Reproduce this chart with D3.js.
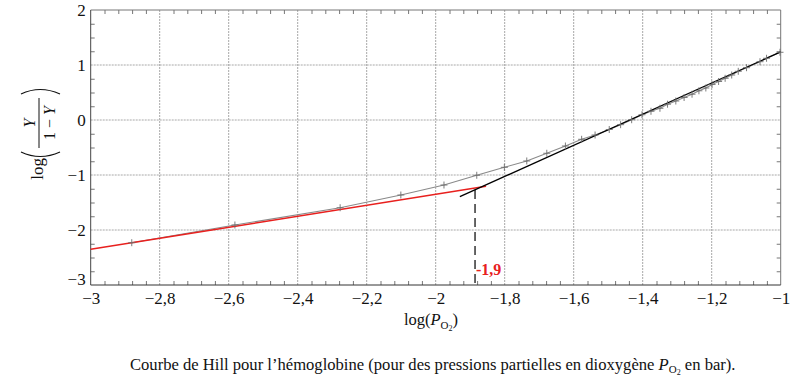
<!DOCTYPE html>
<html><head><meta charset="utf-8">
<script src="https://cdn.jsdelivr.net/npm/d3@7"></script>
<style>
html,body{margin:0;padding:0;background:#fff;}
svg{display:block;font-family:"Liberation Serif","DejaVu Serif",serif;}
</style></head>
<body>
<svg id="c" width="793" height="379"></svg>
<script>
// ---- data ----
const xTickValues = [-3, -2.8, -2.6, -2.4, -2.2, -2, -1.8, -1.6, -1.4, -1.2, -1];
const xTickLabels = ["−3", "−2,8", "−2,6", "−2,4", "−2,2", "−2", "−1,8", "−1,6", "−1,4", "−1,2", "−1"];
const yTickValues = [2, 1, 0, -1, -2, -3];
const yTickLabels = ["2", "1", "0", "−1", "−2", "−3"];

// Hill curve (measured points, log(P_O2) vs log(Y/(1-Y)))
const hillX = [-2.881, -2.582, -2.277, -2.101, -1.976, -1.881, -1.801, -1.736, -1.678, -1.624,
  -1.577, -1.538, -1.497, -1.464, -1.432, -1.402, -1.376, -1.350, -1.328, -1.304,
  -1.280, -1.257, -1.237, -1.217, -1.199, -1.180, -1.161, -1.142, -1.123, -1.099,
  -1.060, -1.041, -1.002];
const hillY = [-2.231, -1.909, -1.595, -1.364, -1.182, -1.005, -0.860, -0.745, -0.605, -0.473,
  -0.351, -0.273, -0.173, -0.085, 0.005, 0.096, 0.158, 0.213, 0.287, 0.345,
  0.409, 0.469, 0.531, 0.582, 0.645, 0.700, 0.758, 0.818, 0.885, 0.951,
  1.060, 1.122, 1.231];

// asymptote low affinity (red)
const redX = [-3, -1.854];
const redY = [-2.35, -1.204];
// asymptote high affinity (black)
const blackX = [-1.93, -1];
const blackY = [-1.394, 1.24];
// dashed marker
const markX = [-1.886, -1.886];
const markY = [-1.273, -3];
const markLabel = "-1,9";

// ---- layout ----
const svg = d3.select("#c");
const x = d3.scaleLinear().domain([-3, -1]).range([90.7, 780.7]);
const y = d3.scaleLinear().domain([-3, 2]).range([285, 10]);
const X0 = x(-3), X1 = x(-1), Y0 = y(-3), Y1 = y(2);

// grid
const grid = svg.append("g");
grid.selectAll("line.v").data(xTickValues.slice(1, -1)).join("line")
  .attr("x1", d => x(d)).attr("x2", d => x(d)).attr("y1", Y1).attr("y2", Y0)
  .attr("stroke", "#a8a8a8").attr("stroke-width", 1).attr("stroke-dasharray", "2,1");
grid.selectAll("line.h").data(yTickValues.slice(1, -1)).join("line")
  .attr("y1", d => y(d)).attr("y2", d => y(d)).attr("x1", X0).attr("x2", X1)
  .attr("stroke", "#a8a8a8").attr("stroke-width", 1).attr("stroke-dasharray", "2,1");

// minor ticks via axes
const xMinor = d3.range(-3, -0.999, 0.04).filter(v => Math.abs(Math.round(v * 5) / 5 - v) > 1e-6);
const yMinor = d3.range(-3, 2.001, 0.25).filter(v => Math.abs(Math.round(v) - v) > 1e-6);
const tickCol = "#777";
function styleMinor(g) { g.select(".domain").remove(); g.selectAll("line").attr("stroke", tickCol); g.selectAll("text").remove(); }
svg.append("g").attr("transform", `translate(0,${Y0})`)
  .call(d3.axisTop(x).tickValues(xMinor).tickSize(4)).call(styleMinor);
svg.append("g").attr("transform", `translate(0,${Y1})`)
  .call(d3.axisBottom(x).tickValues(xMinor).tickSize(4)).call(styleMinor);
svg.append("g").attr("transform", `translate(${X0},0)`)
  .call(d3.axisRight(y).tickValues(yMinor).tickSize(4)).call(styleMinor);
svg.append("g").attr("transform", `translate(${X1},0)`)
  .call(d3.axisLeft(y).tickValues(yMinor).tickSize(4)).call(styleMinor);

// frame
svg.append("line").attr("x1", X0).attr("x2", X1).attr("y1", Y1).attr("y2", Y1).attr("stroke", "#777");
svg.append("line").attr("x1", X1).attr("x2", X1).attr("y1", Y1).attr("y2", Y0).attr("stroke", "#777");
svg.append("line").attr("x1", X0).attr("x2", X0).attr("y1", Y1).attr("y2", Y0).attr("stroke", "#444");
svg.append("line").attr("x1", X0).attr("x2", X1).attr("y1", Y0).attr("y2", Y0).attr("stroke", "#333");

// tick labels
const xa = svg.append("g").attr("transform", `translate(0,${Y0})`)
  .call(d3.axisBottom(x).tickValues(xTickValues).tickSize(0).tickPadding(0)
    .tickFormat((d, i) => xTickLabels[i]));
xa.select(".domain").remove();
xa.selectAll("text").attr("font-family", "Liberation Serif").attr("font-size", 17)
  .attr("fill", "#111").attr("dy", null).attr("y", 19);

const ya = svg.append("g").attr("transform", `translate(${X0},0)`)
  .call(d3.axisLeft(y).tickValues(yTickValues).tickSize(0).tickPadding(5)
    .tickFormat((d, i) => yTickLabels[i]));
ya.select(".domain").remove();
ya.selectAll("text").attr("font-family", "Liberation Serif").attr("font-size", 17)
  .attr("fill", "#111").attr("dy", (d) => d === -3 ? "-0.05em" : "0.32em");

// lines
const line = d3.line().x(d => x(d[0])).y(d => y(d[1]));
svg.append("path").datum(d3.zip(hillX, hillY)).attr("d", line)
  .attr("fill", "none").attr("stroke", "#8a8a8a").attr("stroke-width", 1.1);
svg.append("path").datum(d3.zip(redX, redY)).attr("d", line)
  .attr("fill", "none").attr("stroke", "#e8201e").attr("stroke-width", 1.5);
svg.append("path").datum(d3.zip(blackX, blackY)).attr("d", line)
  .attr("fill", "none").attr("stroke", "#000").attr("stroke-width", 1.3);

// markers
svg.append("g").selectAll("path").data(d3.zip(hillX, hillY)).join("path")
  .attr("d", d => `M${x(d[0]) - 3.5},${y(d[1])}h7M${x(d[0])},${y(d[1]) - 3.5}v7`)
  .attr("stroke", "#6e6e6e").attr("stroke-width", 0.9).attr("fill", "none");

// dashed marker line
svg.append("path").datum(d3.zip(markX, markY)).attr("d", line)
  .attr("fill", "none").attr("stroke", "#000").attr("stroke-width", 1.2).attr("stroke-dasharray", "9,5");
svg.append("text").attr("x", x(markX[0]) + 1).attr("y", 275)
  .attr("font-family", "Liberation Serif").attr("font-size", 16).attr("font-weight", "bold")
  .attr("fill", "#e8201e").text(markLabel);

// x title
const xt = svg.append("text").attr("x", 431).attr("y", 325).attr("text-anchor", "middle")
  .attr("font-family", "Liberation Serif").attr("font-size", 16.5).attr("fill", "#111");
xt.append("tspan").text("log(");
xt.append("tspan").attr("font-style", "italic").text("P");
xt.append("tspan").attr("font-size", 11).attr("dy", 4).text("O");
xt.append("tspan").attr("font-size", 8).attr("dy", 2).text("2");
xt.append("tspan").attr("dy", -6).text(")");

// y title (rotated)
const yt = svg.append("g").attr("transform", "translate(40,125) rotate(-90)")
  .attr("font-family", "Liberation Serif").attr("fill", "#111");
yt.append("text").attr("x", -33).attr("y", 3).attr("text-anchor", "end").attr("font-size", 17).text("log");
yt.append("path").attr("d", "M-27,-19 Q-36,0 -27,20").attr("fill", "none").attr("stroke", "#111").attr("stroke-width", 1.2);
yt.append("path").attr("d", "M31,-19 Q40,0 31,20").attr("fill", "none").attr("stroke", "#111").attr("stroke-width", 1.2);
yt.append("line").attr("x1", -23).attr("x2", 27).attr("y1", -1).attr("y2", -1).attr("stroke", "#111").attr("stroke-width", 1);
yt.append("text").attr("x", 2).attr("y", -5).attr("text-anchor", "middle").attr("font-size", 16).attr("font-style", "italic").text("Y");
const den = yt.append("text").attr("x", 2).attr("y", 15).attr("text-anchor", "middle").attr("font-size", 16);
den.append("tspan").text("1 − ");
den.append("tspan").attr("font-style", "italic").text("Y");

// caption
const cap = svg.append("text").attr("x", 130).attr("y", 370)
  .attr("font-family", "Liberation Serif").attr("font-size", 16.6).attr("fill", "#111");
cap.append("tspan").text("Courbe de Hill pour l’hémoglobine (pour des pressions partielles en dioxygène ");
cap.append("tspan").attr("font-style", "italic").text("P");
cap.append("tspan").attr("font-size", 11).attr("dy", 3).text("O");
cap.append("tspan").attr("font-size", 8).attr("dy", 2).text("2");
cap.append("tspan").attr("dy", -5).text(" en bar).");
</script>
</body></html>
